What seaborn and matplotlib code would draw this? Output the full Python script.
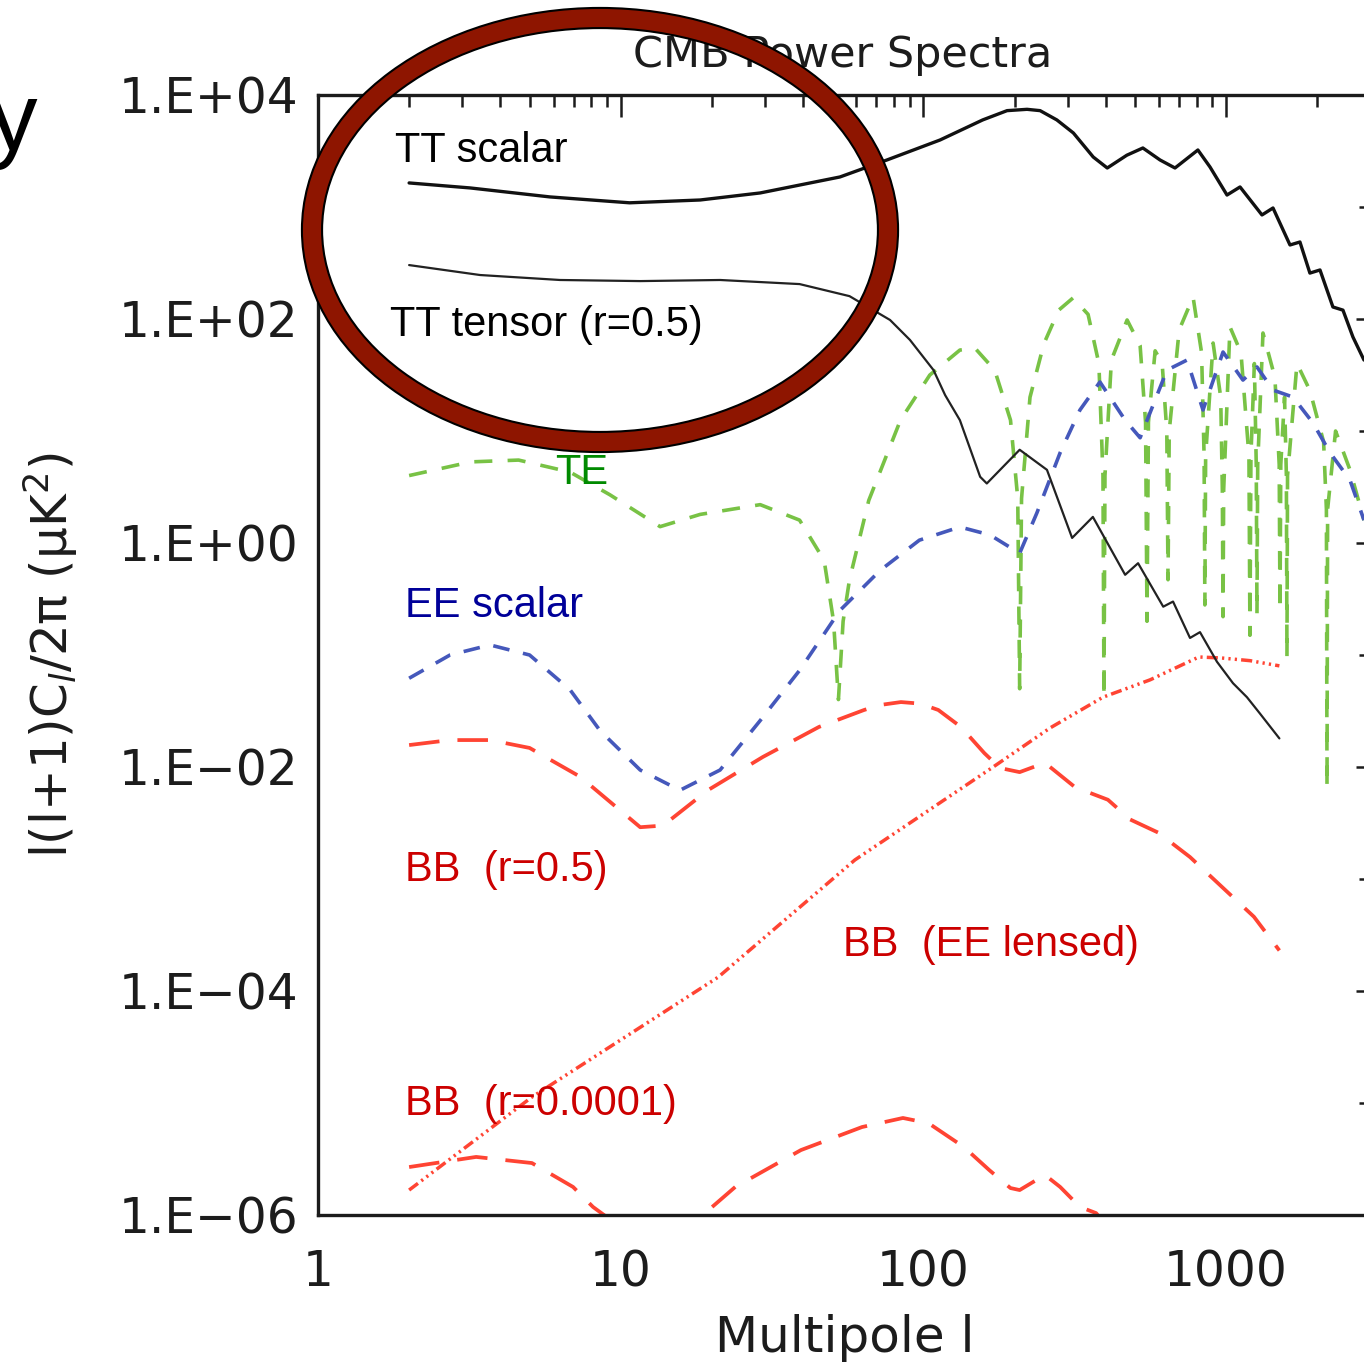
import matplotlib
matplotlib.use("Agg")
import matplotlib.pyplot as plt
import matplotlib.patheffects as pe
from matplotlib.patches import Ellipse
from matplotlib.ticker import FixedLocator, FixedFormatter, NullFormatter
import seaborn as sns

# ---- spectra: multipole l and l(l+1)C_l/2pi in uK^2 ----
tt_l = [2, 3.18, 5.84, 10.7, 18.3, 28.9, 53, 75.8, 113.5, 157,
        189, 220, 243, 276, 313, 364, 405, 470, 531, 605,
        678, 807, 885, 1007, 1112, 1314, 1429, 1626, 1754, 1892,
        2043, 2254, 2433, 2625, 2855]
tt_v = [1640, 1480, 1230, 1090, 1155, 1335, 1854, 2630, 3965, 5990,
        7250, 7450, 7250, 5990, 4580, 2795, 2230, 2900, 3365, 2630,
        2230, 3229, 2275, 1279, 1510, 849, 980, 458, 487, 257,
        274, 128, 120, 69, 43]

tens_l = [2, 3.43, 6.3, 11.6, 21.3, 39, 57, 77.6, 90.3, 108,
          118, 132, 154, 162, 208, 256, 310, 363, 464, 512,
          620, 668, 760, 820, 933, 1054, 1172, 1294, 1500]
tens_v = [303, 247, 223, 218, 223, 205, 160, 98, 65, 35,
          20.9, 12.5, 3.9, 3.4, 6.8, 4.5, 1.11, 1.71, 0.52, 0.66,
          0.27, 0.30, 0.142, 0.16, 0.087, 0.056, 0.042, 0.030, 0.018]

te_l = [2, 3.2, 4.6, 6.8, 9.2, 13.5, 18.3, 28.9, 39, 47,
        50.5, 52.4, 54.3, 57, 66, 84, 105, 132, 148, 172,
        194, 205, 208, 211, 225, 250, 280, 312, 350, 380,
        392, 395, 398, 418, 471, 520, 542, 548, 554, 583,
        615, 637, 643, 649, 700, 778, 830, 846, 851, 856,
        906, 960, 972, 977, 982, 1030, 1120, 1190, 1199, 1208,
        1240, 1258, 1265, 1272, 1324, 1450, 1498, 1507, 1516, 1560,
        1582, 1589, 1596, 1715, 1892, 2100, 2145, 2155, 2165, 2300,
        2566, 2855]
te_v = [4.0, 5.3, 5.5, 4.3, 2.7, 1.4, 1.8, 2.2, 1.6, 0.7,
        0.2, 0.04, 0.2, 0.47, 2.4, 12.5, 31.6, 52.8, 55, 35,
        12.5, 2.5, 0.05, 2.5, 20, 60, 120, 154, 110, 40,
        4, 0.042, 4, 43, 98, 58, 12, 0.2, 12, 52,
        40, 10, 0.47, 10, 80, 157, 50, 6, 0.28, 6,
        61, 20, 3, 0.22, 3, 85, 50, 6, 0.15, 6,
        40, 5, 0.23, 5, 75, 30, 5, 0.25, 5, 20,
        4, 0.096, 4, 40, 23, 8, 2, 0.0066, 2, 10,
        4.5, 1.6]

ee_l = [2, 2.73, 3.7, 5.0, 6.8, 8.56, 11.6, 15.7, 21.3, 28.9,
        39, 53, 72, 97, 132, 166, 208, 237, 283, 329,
        383, 464, 520, 638, 743, 839, 977, 1137, 1265, 1429,
        1663, 1937, 2205, 2566, 2855]
ee_v = [0.062, 0.10, 0.123, 0.10, 0.049, 0.021, 0.0094, 0.0062, 0.0094, 0.026,
        0.073, 0.25, 0.57, 1.06, 1.39, 1.18, 0.81, 1.85, 6.4, 15.4,
        27.4, 12.5, 8.7, 35, 43, 15.4, 50.7, 28.5, 37.3, 23.2,
        20.1, 11.8, 6.4, 3.65, 1.6]

bb5_l = [2, 2.73, 3.7, 5.0, 7.34, 11.6, 13.8, 19.4, 29.5, 45.2,
         63.7, 72, 84.3, 97.6, 112, 133, 159, 179, 208, 252,
         317, 407, 482, 596, 760, 969, 1236, 1500]
bb5_v = [0.0157, 0.0174, 0.0174, 0.0148, 0.0082, 0.0029, 0.0030, 0.0062, 0.0123, 0.0228,
         0.0323, 0.0358, 0.038, 0.0368, 0.0323, 0.0228, 0.0133, 0.0098, 0.0090, 0.0109,
         0.0066, 0.0051, 0.0034, 0.0026, 0.00157, 0.00085, 0.00046, 0.00023]

bb4_l = [2, 3.33, 5.09, 6.96, 8.1, 11.6, 13.8, 19.0, 23.9, 39.4,
         62.7, 85.6, 104, 136, 165, 194, 208, 252, 283, 329,
         372, 420]
bb4_v = [2.68e-6, 3.3e-6, 2.91e-6, 1.78e-6, 1.18e-6, 5.8e-7, 6.0e-7, 1.04e-6, 1.78e-6, 3.8e-6,
         6.1e-6, 7.35e-6, 6.6e-6, 4.05e-6, 2.52e-6, 1.74e-6, 1.67e-6, 2.28e-6, 1.78e-6, 1.18e-6,
         1.04e-6, 7.0e-7]

bbl_l = [2, 5.09, 21, 59.4, 170, 262, 392, 561, 813, 968, 1200, 1500]
bbl_v = [1.67e-6, 1.13e-5, 1.33e-4, 1.48e-3, 0.010, 0.0223, 0.042, 0.060, 0.096, 0.094, 0.089, 0.080]

x_ticks = [1, 10, 100, 1000]
x_labels = ["1", "10", "100", "1000"]
y_ticks = [1e-6, 1e-4, 1e-2, 1, 1e2, 1e4]
y_labels = ["1.E\u221206", "1.E\u221204", "1.E\u221202", "1.E+00", "1.E+02", "1.E+04"]

# ---- style ----
sns.set_theme(style="white")
plt.rcParams["font.family"] = ["DejaVu Sans"]
plt.rcParams["lines.scale_dashes"] = False
plt.rcParams["mathtext.fontset"] = "dejavusans"

W, H = 1364, 1370
fig = plt.figure(figsize=(W / 100, H / 100), dpi=100)
fig.patch.set_facecolor("white")


def fx(px):
    return px / W


def fy(py):
    return 1 - py / H


ax = fig.add_axes([fx(318), fy(1215), (1370.5 - 318) / W, 1120 / H])
ax.set_xscale("log")
ax.set_yscale("log")
ax.set_xlim(1, 3000)
ax.set_ylim(1e-6, 1e4)
ax.set_facecolor("white")

GREEN = "#78c245"
BLUE = "#4558bb"
RED = "#ff4433"
INK = "#1c1c1c"


def draw(l, v, **kw):
    sns.lineplot(x=l, y=v, ax=ax, estimator=None, sort=False, **kw)


draw(te_l, te_v, color=GREEN, lw=2.6, linestyle=(0, (13, 11)))
draw(ee_l, ee_v, color=BLUE, lw=2.6, linestyle=(0, (12, 10)))
draw(bb5_l, bb5_v, color=RED, lw=2.7, linestyle=(0, (22, 13)))
draw(bb4_l, bb4_v, color=RED, lw=2.7, linestyle=(0, (22, 13)))
draw(bbl_l, bbl_v, color=RED, lw=2.5,
     linestyle=(0, (8, 3, 1.6, 3, 1.6, 3, 1.6, 3)))
draw(tens_l, tens_v, color="#222222", lw=1.6)
draw(tt_l, tt_v, color="#111111", lw=2.4)

# ---- axes frame and ticks ----
for s in ax.spines.values():
    s.set_color(INK)
    s.set_linewidth(2.4)

ax.xaxis.set_major_locator(FixedLocator(x_ticks))
ax.xaxis.set_major_formatter(FixedFormatter(x_labels))
x_minor = [m * d for d in (1, 10, 100, 1000) for m in range(2, 10) if m * d <= 3000]
ax.xaxis.set_minor_locator(FixedLocator(x_minor))
ax.xaxis.set_minor_formatter(NullFormatter())

ax.yaxis.set_major_locator(FixedLocator(y_ticks))
ax.yaxis.set_major_formatter(FixedFormatter(y_labels))
ax.yaxis.set_minor_locator(FixedLocator([1e-5, 1e-3, 1e-1, 1e1, 1e3]))
ax.yaxis.set_minor_formatter(NullFormatter())

ax.tick_params(which="both", direction="in", top=True, right=True,
               color=INK, width=1.8, labelcolor=INK, labelsize=35)
ax.tick_params(axis="x", which="major", length=16, pad=24)
ax.tick_params(axis="x", which="minor", length=8.5)
ax.tick_params(axis="y", which="major", length=10, pad=14)
ax.tick_params(axis="y", which="minor", length=8)
ax.set_xlabel("")
ax.set_ylabel("")

# ---- titles ----
fig.text(fx(843), fy(55), "CMB Power Spectra", ha="center", va="center",
         fontsize=31, color=INK)
fig.text(fx(845), fy(1338), "Multipole l", ha="center", va="center",
         fontsize=36, color=INK)
fig.text(fx(50), fy(655), "l(l+1)C$_l$/2\u03c0 (\u03bcK$^2$)", ha="center",
         va="center", rotation=90, fontsize=36, color=INK)

# ---- curve labels ----
lab = dict(fontsize=30, family=["Liberation Sans", "DejaVu Sans"], va="baseline", ha="left")
fig.text(fx(395), fy(162), "TT scalar", color="black", **lab)
fig.text(fx(390), fy(336), "TT tensor (r=0.5)", color="black", **lab)
fig.text(fx(555), fy(484), "TE", color="#008a00", **lab)
fig.text(fx(405), fy(617), "EE scalar", color="#000099", **lab)
fig.text(fx(405), fy(881), "BB  (r=0.5)", color="#cc0000", **lab)
fig.text(fx(843), fy(956), "BB  (EE lensed)", color="#cc0000", **lab)
fig.text(fx(405), fy(1115), "BB  (r=0.0001)", color="#cc0000", **lab)

# partial slide heading letter at the left edge
fig.text(fx(37), fy(150), "y", ha="right", va="baseline", fontsize=70,
         color="black", family=["Liberation Sans", "DejaVu Sans"])

# ---- highlight ring ----
ring = Ellipse((fx(600), fy(230)), 576 / W, 424 / H, transform=fig.transFigure,
               facecolor="none", edgecolor="#8e1500", linewidth=13, zorder=50,
               clip_on=False)
ring.set_path_effects([pe.Stroke(linewidth=16, foreground="black"), pe.Normal()])
fig.add_artist(ring)

fig.savefig("out.png", dpi=100, facecolor="white")
